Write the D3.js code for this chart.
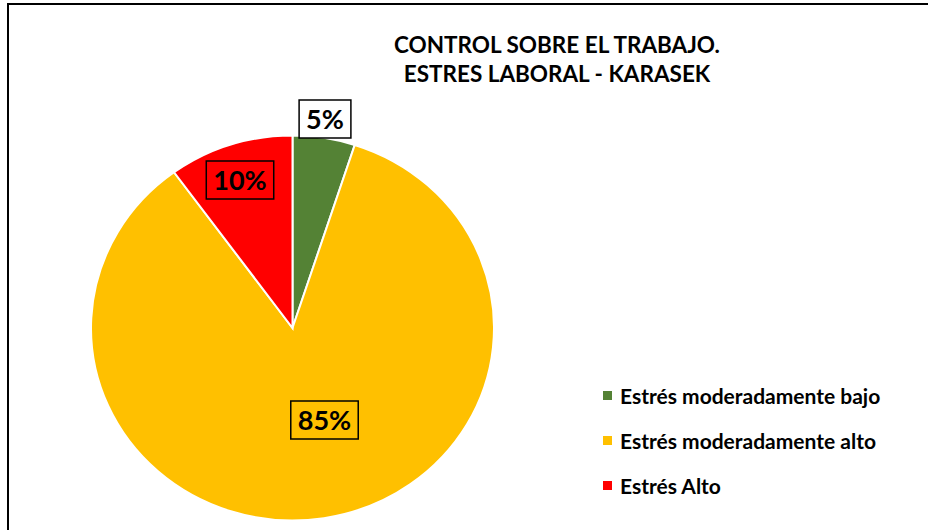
<!DOCTYPE html>
<html><head><meta charset="utf-8">
<script src="https://cdn.jsdelivr.net/npm/d3@7"></script>
<style>html,body{margin:0;padding:0;background:#fff;overflow:hidden}</style>
</head><body>
<script>
const categories = ["Estrés moderadamente bajo", "Estrés moderadamente alto", "Estrés Alto"];
const values = [5, 85, 10];
const labels = ["5%", "85%", "10%"];
const colors = ["#548235", "#FFC000", "#FF0000"];
const titleLines = ["CONTROL SOBRE EL TRABAJO.", "ESTRES LABORAL - KARASEK"];

const W = 928, H = 530;
const font = "Lato, 'Open Sans', sans-serif";
const svg = d3.select("body").append("svg").attr("width", W).attr("height", H);

svg.append("rect").attr("x", 8).attr("y", 4).attr("width", 940).attr("height", 560)
  .attr("fill", "#fff").attr("stroke", "#000").attr("stroke-width", 2);

svg.append("g").selectAll("text").data(titleLines).join("text")
  .attr("x", 557).attr("y", (d, i) => 53 + i * 29)
  .attr("text-anchor", "middle").attr("font-family", font).attr("font-weight", "bold")
  .attr("font-size", 22.5).attr("fill", "#000").text(d => d);

const cx = 292.5, cy = 328, ry = 192.5, rx = 201.5;
const pie = d3.pie().sort(null).value(d => d);
const arcs = pie(values);
const arc = d3.arc().innerRadius(0).outerRadius(ry);
const g = svg.append("g").attr("transform", `translate(${cx},${cy})`);
g.append("g").attr("transform", `scale(${rx / ry},1)`)
  .selectAll("path").data(arcs).join("path")
  .attr("d", arc).attr("fill", (d, i) => colors[i])
  .attr("stroke", "#fff").attr("stroke-width", 2).attr("vector-effect", "non-scaling-stroke");

const labelPos = [[325, 119], [324.5, 420], [240, 180]];
const boxFill = ["#fff", null, null];
labels.forEach((t, i) => {
  const [lx, ly] = labelPos[i];
  const lg = svg.append("g").attr("transform", `translate(${lx},${ly})`);
  const txt = lg.append("text").attr("text-anchor", "middle").attr("dy", "0.36em")
    .attr("font-family", font).attr("font-weight", "bold").attr("font-size", 27)
    .attr("fill", "#000").text(t);
  const bb = txt.node().getBBox();
  lg.insert("rect", "text").attr("x", bb.x - 7).attr("y", -19).attr("width", bb.width + 14).attr("height", 38)
    .attr("fill", boxFill[i] || colors[i]).attr("stroke", "#000").attr("stroke-width", 1.5);
});

const leg = svg.append("g").selectAll("g").data(categories).join("g")
  .attr("transform", (d, i) => `translate(603,${396 + i * 45})`);
leg.append("rect").attr("x", 0).attr("y", -5).attr("width", 9).attr("height", 9)
  .attr("fill", (d, i) => colors[i]);
leg.append("text").attr("x", 17).attr("dy", "0.36em").attr("font-family", font)
  .attr("font-weight", "bold").attr("font-size", 21).attr("fill", "#000").text(d => d);
</script>
</body></html>
